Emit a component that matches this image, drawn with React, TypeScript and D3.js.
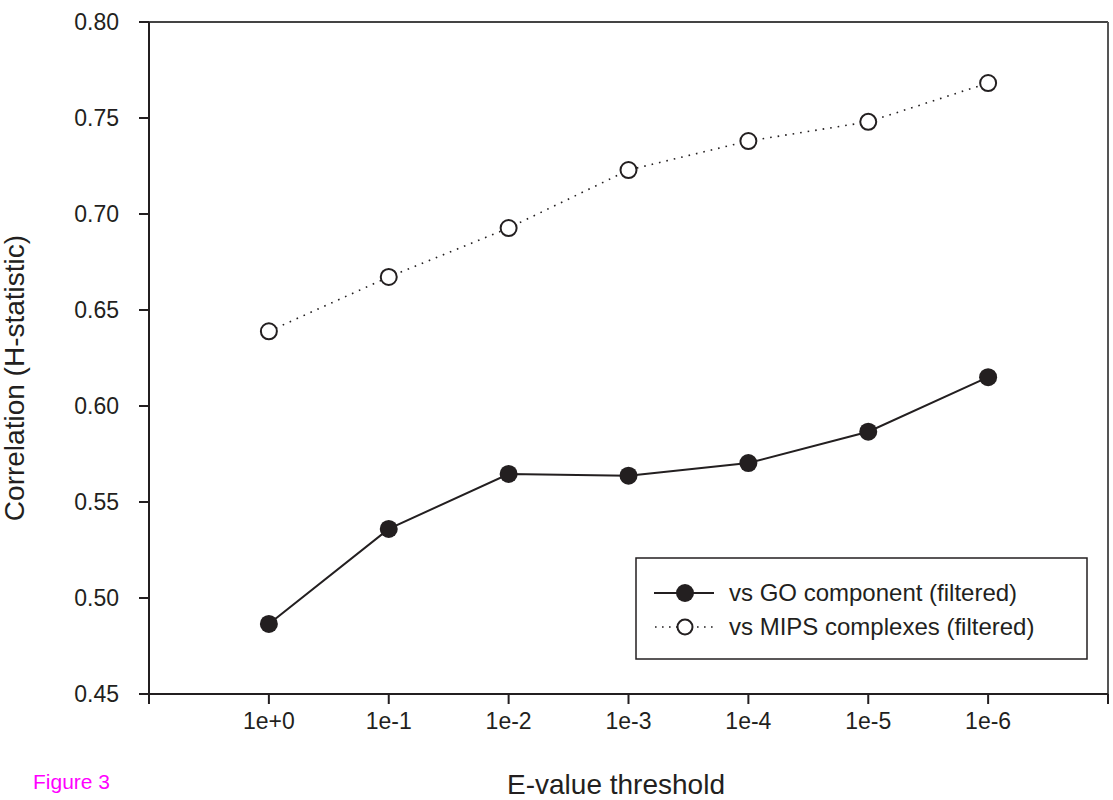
import React from 'react';
import * as d3 from 'd3';

// E-value thresholds on the x axis
const thresholds = ['1e+0', '1e-1', '1e-2', '1e-3', '1e-4', '1e-5', '1e-6'];
// correlation vs GO component (filtered)
const goValues = [0.4865, 0.536, 0.5646, 0.5637, 0.5703, 0.5866, 0.615];
// correlation vs MIPS complexes (filtered)
const mipsValues = [0.6389, 0.6672, 0.6927, 0.7229, 0.738, 0.748, 0.7682];
const yTicks = [0.45, 0.5, 0.55, 0.6, 0.65, 0.7, 0.75, 0.8];

const W = 1113;
const H = 800;
const FONT = '"Liberation Sans", Arial, Helvetica, sans-serif';
const INK = '#231f20';

export default function App() {
  const left = 149, right = 1108, top = 22, bottom = 694;

  // categories sit at 0..6, axis runs from -1 to 7
  const x = d3.scaleLinear().domain([-1, thresholds.length]).range([left, right]);
  const y = d3.scaleLinear().domain([0.45, 0.8]).range([bottom, top]);
  const xTicks = d3.range(-1, thresholds.length + 1);

  const line = d3.line<number>()
    .x((_, i) => x(i))
    .y(d => y(d));

  return (
    <svg width={W} height={H} style={{ position: 'absolute', left: 0, top: 0, background: '#fff' }}
      fontFamily={FONT}>
      {/* frame */}
      <line x1={left} x2={right} y1={top} y2={top} stroke="#444" strokeWidth={2} />
      <line x1={right} x2={right} y1={top} y2={bottom} stroke="#555" strokeWidth={2} />

      {/* y axis */}
      <line x1={left} x2={left} y1={top} y2={bottom} stroke={INK} strokeWidth={2} />
      {yTicks.map(t => (
        <g key={t}>
          <line x1={left - 10} x2={left} y1={y(t)} y2={y(t)} stroke={INK} strokeWidth={2} />
          <text x={119} y={y(t)} dy="0.35em" textAnchor="end" fontSize={23} fill={INK}>
            {t.toFixed(2)}
          </text>
        </g>
      ))}

      {/* x axis */}
      <line x1={left} x2={right} y1={bottom} y2={bottom} stroke={INK} strokeWidth={2} />
      {xTicks.map(t => (
        <line key={t} x1={x(t)} x2={x(t)} y1={bottom} y2={bottom + 10} stroke={INK} strokeWidth={2} />
      ))}
      {thresholds.map((lab, i) => (
        <text key={lab} x={x(i)} y={729} textAnchor="middle" fontSize={23} fill={INK}>{lab}</text>
      ))}

      {/* axis titles */}
      <text x={616} y={794} textAnchor="middle" fontSize={28} fill={INK}>E-value threshold</text>
      <text transform={`translate(24,${378}) rotate(-90)`} textAnchor="middle" fontSize={28} fill={INK}>
        Correlation (H-statistic)
      </text>

      {/* MIPS series */}
      <path d={line(mipsValues) || ''} fill="none" stroke={INK} strokeWidth={1.6}
        strokeDasharray="1.6 6" />
      {mipsValues.map((v, i) => (
        <circle key={i} cx={x(i)} cy={y(v)} r={8} fill="#fff" stroke={INK} strokeWidth={2} />
      ))}

      {/* GO series */}
      <path d={line(goValues) || ''} fill="none" stroke={INK} strokeWidth={2} />
      {goValues.map((v, i) => (
        <circle key={i} cx={x(i)} cy={y(v)} r={9} fill={INK} />
      ))}

      {/* legend */}
      <rect x={636} y={558} width={451} height={101} fill="#fff" stroke={INK} strokeWidth={1.5} />
      <line x1={654} x2={714} y1={593} y2={593} stroke={INK} strokeWidth={2} />
      <circle cx={685} cy={593} r={9} fill={INK} />
      <text x={729} y={593} dy="0.35em" fontSize={24} fill={INK}>vs GO component (filtered)</text>
      <line x1={655} x2={714} y1={627} y2={627} stroke={INK} strokeWidth={1.6} strokeDasharray="1.6 5.4" />
      <circle cx={685} cy={627} r={7.5} fill="#fff" stroke={INK} strokeWidth={2} />
      <text x={729} y={627} dy="0.35em" fontSize={24} fill={INK}>vs MIPS complexes (filtered)</text>

      <text x={33} y={789} fontSize={21} fill="#ff00ff">Figure 3</text>
    </svg>
  );
}
